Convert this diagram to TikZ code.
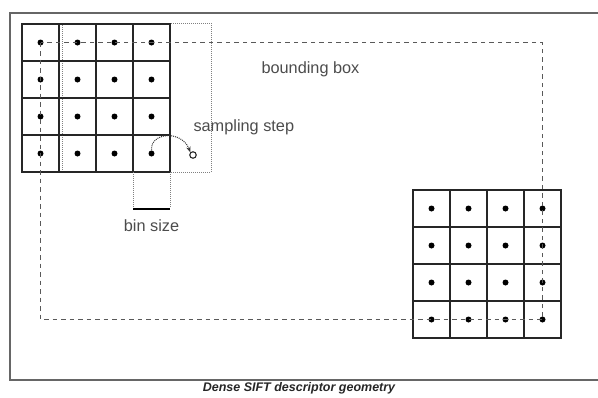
\documentclass[tikz,border=0pt]{standalone}
\usepackage{fontspec}
\setmainfont{Liberation Sans}
\usetikzlibrary{arrows.meta}

\begin{document}
\begin{tikzpicture}[x=1pt, y=-1pt, every node/.style={font=\fontsize{16.3}{18}\selectfont, text=black!70}, >={Stealth[length=2mm]},
	cell/.style={draw=black!85, line width=1.2pt}, dot/.style={circle, fill=black, inner sep=0pt, minimum size=6pt},
	bbox/.style={draw=black!65, line width=1.4pt, dash pattern=on 4.5pt off 4pt}, guide/.style={draw=black!50, line width=1pt, dash pattern=on 1pt off 1pt}]
	\useasboundingbox (0,0) rectangle (598,397);
	\draw[black!60, line width=1.3pt] (599,13) -- (10,13) -- (10,380) -- (599,380);
	% first descriptor and the next sample position
	\draw[guide] (62,23) rectangle (211,172);
	\foreach \i in {0,...,3} {\foreach \j in {0,...,3} {\draw[cell] (22+37*\i,24+37*\j) rectangle +(37,37); \node[dot] (a-\j-\i) at (40.5+37*\i,42.5+37*\j) {};}}
	\node[draw=black!85, line width=1.1pt, circle, inner sep=0pt, minimum size=6.5pt] (next) at (193,155) {};
	\draw[guide, ->, black!80] (a-3-3.north) .. controls (150,132) and (182,130) .. (next.north west);
	\node[anchor=west] (steplab) at (190,127) {sampling step};
	% bin size
	\coordinate (binl) at (133,209);
	\coordinate (binr) at (170,209);
	\draw[guide] (133,172) -- (133,207) (170,172) -- (170,207);
	\draw[black, line width=1.1pt] (binl) -- (binr);
	\node (binlab) at (151.5,226) {bin size};
	% last descriptor
	\foreach \i in {0,...,3} {\foreach \j in {0,...,3} {\draw[cell] (413+37*\i,190+37*\j) rectangle +(37,37); \node[dot] (b-\j-\i) at (431.5+37*\i,208.5+37*\j) {};}}
	\draw[bbox] (a-0-0.center) rectangle (b-3-3.center);
	\node[anchor=west] (boxlab) at (258,69) {bounding box};
	\node[font=\fontsize{12.5}{14}\selectfont\bfseries\itshape, text=black!85] (caption) at (299,388) {Dense SIFT descriptor geometry};
\end{tikzpicture}
\end{document}
